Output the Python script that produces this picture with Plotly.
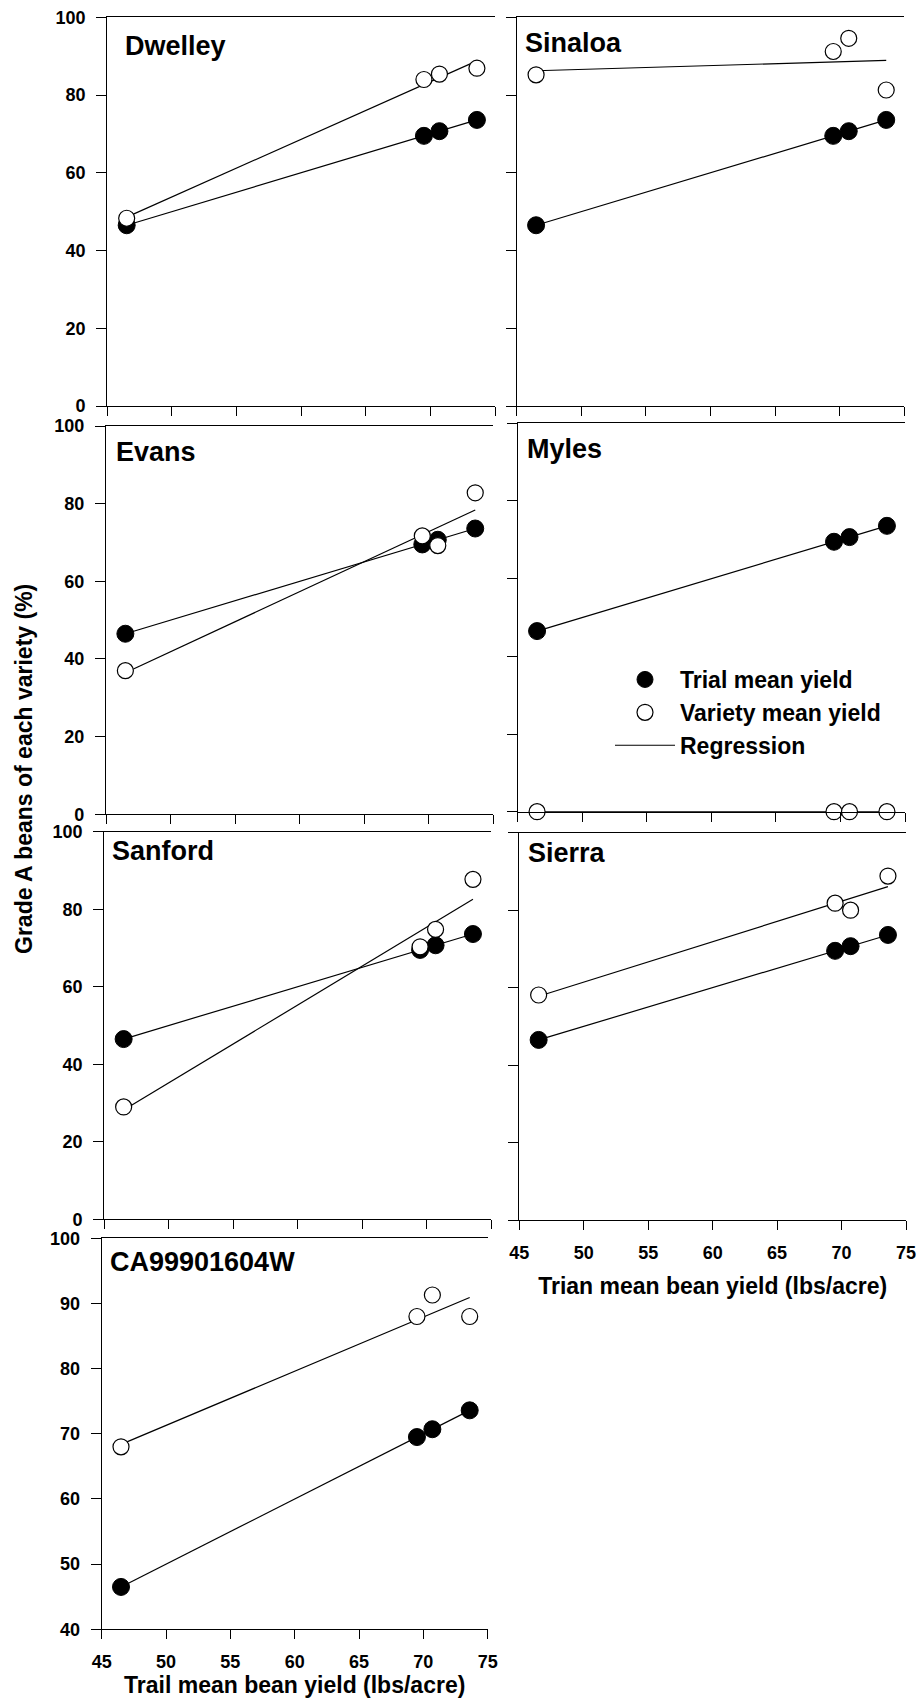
import numpy as np
import plotly.graph_objects as go

# ---------------- data ----------------
trial_mean = [46.5, 69.5, 70.7, 73.6]          # trial mean bean yield (x and y of filled points)
varieties = ["Dwelley", "Sinaloa", "Evans", "Myles", "Sanford", "Sierra", "CA99901604W"]
dwelley = [48.3, 84.0, 85.4, 86.9]
sinaloa = [85.2, 91.2, 94.6, 81.3]
evans = [37.0, 71.7, 69.2, 82.8]
myles = [0.0, 0.0, 0.0, 0.0]
sanford = [29.0, 70.3, 74.8, 87.7]
sierra = [58.1, 81.8, 80.0, 88.8]
ca99901604w = [68.0, 88.0, 91.3, 88.0]
variety_values = [dwelley, sinaloa, evans, myles, sanford, sierra, ca99901604w]

x_ticks = [45, 50, 55, 60, 65, 70, 75]
y_ticks_full = [0, 20, 40, 60, 80, 100]
y_ticks_ca = [40, 50, 60, 70, 80, 90, 100]

# ---------------- layout specs (pixels) ----------------
W, H = 923, 1701
FONT = "Liberation Sans, Arial, Helvetica, sans-serif"
# (left, right, top, bottom) of each panel in pixels
boxes = [
    (107.3, 495.0, 17.3, 406.0),
    (516.7, 904.3, 17.3, 406.0),
    (106.0, 493.3, 426.0, 814.3),
    (517.7, 905.0, 423.3, 811.7),
    (104.3, 491.0, 831.7, 1219.3),
    (519.3, 906.0, 832.7, 1220.0),
    (101.7, 487.7, 1238.3, 1629.3),
]
label_pos = [(0.041, 0.927), (0.0155, 0.934), (0.0214, 0.933), (0.019, 0.934),
             (0.0147, 0.950), (0.017, 0.948), (0.0155, 0.940)]

LW = 1.2


def bold(vals):
    return [f"<b>{v}</b>" for v in vals]


TICKFONT = dict(family=FONT, size=18, color="black", weight="bold")

fig = go.Figure()

for i, (name, vals) in enumerate(zip(varieties, variety_values)):
    k = i + 1
    xa = "x" if k == 1 else f"x{k}"
    ya = "y" if k == 1 else f"y{k}"
    xs = [min(trial_mean), max(trial_mean)]
    # regression lines
    for j, series in enumerate((trial_mean, vals)):
        m, b = np.polyfit(trial_mean, series, 1)
        fig.add_trace(go.Scatter(
            x=xs, y=[m * xv + b for xv in xs], mode="lines",
            line=dict(color="black", width=LW), xaxis=xa, yaxis=ya,
            name="<b>Regression</b>", legendrank=3, cliponaxis=False,
            showlegend=(k == 4 and j == 1), hoverinfo="skip"))
    fig.add_trace(go.Scatter(
        x=trial_mean, y=trial_mean, mode="markers", xaxis=xa, yaxis=ya,
        marker=dict(symbol="circle", size=17, color="black", line=dict(color="black", width=1)),
        name="<b>Trial mean yield</b>", legendrank=1, showlegend=(k == 4), cliponaxis=False))
    fig.add_trace(go.Scatter(
        x=trial_mean, y=vals, mode="markers", xaxis=xa, yaxis=ya,
        marker=dict(symbol="circle", size=16, color="white", line=dict(color="black", width=1.2)),
        name="<b>Variety mean yield</b>", legendrank=2, showlegend=(k == 4), cliponaxis=False))

    l, r, t, btm = boxes[i]
    yrange = [40, 100] if k == 7 else [0, 100]
    yt = y_ticks_ca if k == 7 else y_ticks_full
    xkey = "xaxis" if k == 1 else f"xaxis{k}"
    ykey = "yaxis" if k == 1 else f"yaxis{k}"
    xaxis = dict(domain=[l / W, r / W], range=[45, 75], tickvals=x_ticks, ticktext=bold(x_ticks),
                 ticks="outside", ticklen=9, tickwidth=LW, tickcolor="black",
                 showline=True, linecolor="black", linewidth=LW, mirror=True,
                 showgrid=False, zeroline=False, anchor=ya, automargin=False,
                 showticklabels=(k in (6, 7)), ticklabelstandoff=7,
                 tickfont=TICKFONT)
    if k == 6:
        xaxis["title"] = dict(text="<b>Trian mean bean yield (lbs/acre)</b>", standoff=16,
                              font=dict(family=FONT, size=23, color="black", weight="bold"))
    if k == 7:
        xaxis["title"] = dict(text="<b>Trail mean bean yield (lbs/acre)</b>", standoff=4,
                              font=dict(family=FONT, size=23, color="black", weight="bold"))
    yaxis = dict(domain=[1 - btm / H, 1 - t / H], range=yrange, tickvals=yt, ticktext=bold(yt),
                 ticks="outside", ticklen=10, tickwidth=LW, tickcolor="black",
                 showline=True, linecolor="black", linewidth=LW, mirror=False,
                 showgrid=False, zeroline=False, anchor=xa, automargin=False,
                 showticklabels=(k % 2 == 1), ticklabelstandoff=7,
                 tickfont=TICKFONT)
    # right-side axis with inward ticks
    yaxis_r = dict(overlaying=ya, side="right", anchor=xa, range=yrange, tickvals=yt,
                   ticks="inside", ticklen=12, tickwidth=LW, tickcolor="black",
                   showline=True, linecolor="black", linewidth=LW, automargin=False,
                   showgrid=False, zeroline=False, showticklabels=False)
    fig.update_layout({xkey: xaxis, ykey: yaxis, f"yaxis{k + 7}": yaxis_r})

    lx, ly = label_pos[i]
    fig.add_annotation(text=f"<b>{name}</b>", xref=f"{xa} domain", yref=f"{ya} domain",
                       x=lx, y=ly, xanchor="left", yanchor="middle", showarrow=False,
                       font=dict(family=FONT, size=27, color="black", weight="bold"))

fig.add_annotation(text="<b>Grade A beans of each variety (%)</b>", textangle=-90,
                   xref="paper", yref="paper", x=24 / W, y=1 - 769 / H,
                   xanchor="center", yanchor="middle", showarrow=False,
                   font=dict(family=FONT, size=23, color="black", weight="bold"))

fig.update_layout(
    width=W, height=H,
    margin=dict(l=0, r=0, t=0, b=0, autoexpand=False),
    paper_bgcolor="white", plot_bgcolor="white",
    font=dict(family=FONT, color="black"),
    legend=dict(x=610 / W, y=1 - 658 / H, xanchor="left", yanchor="top",
                bgcolor="rgba(0,0,0,0)", borderwidth=0, itemwidth=60,
                font=dict(family=FONT, size=23, color="black", weight="bold"),
                traceorder="normal"),
)

fig.write_html("out.html", config={"displayModeBar": False},
               post_script="document.body.style.margin='0px';")
